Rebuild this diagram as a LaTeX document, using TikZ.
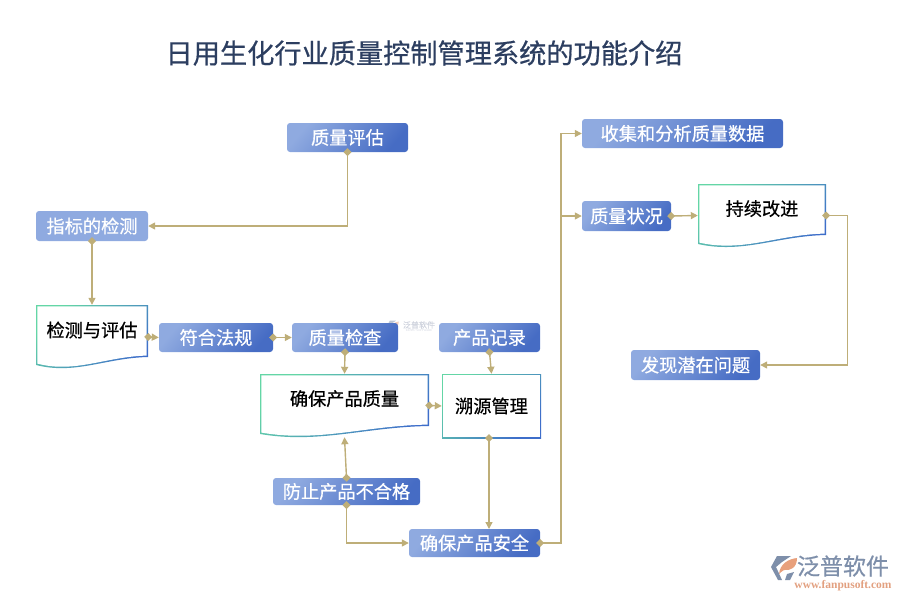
\documentclass[tikz,border=0pt]{standalone}
\usepackage{fontspec}
\setmainfont{Liberation Serif}
\newfontfamily\cjk[FakeBold=0.6]{Noto Sans CJK SC}
\usepackage{xcolor}
\usetikzlibrary{calc, arrows.meta, positioning}

% outline of a box, its gradient is a shaded shape under a white one
\newcommand{\docshape}[5]{% x1, y1, x2, left end y, right end y
    \shade[edgeshade] (#1,#2) -- (#3,#2) -- (#3,#5)
        .. controls ({#1+0.62*(#3-#1)},#5+1) and ({#1+0.35*(#3-#1)},#4+10) .. (#1,#4) -- cycle;
    \fill[white] (#1+1.4,#2+1.4) -- (#3-1.4,#2+1.4) -- (#3-1.4,#5-1.4)
        .. controls ({#1+0.62*(#3-#1)},#5-0.4) and ({#1+0.35*(#3-#1)},#4+8.6) .. (#1+1.4,#4-1.4) -- cycle;
}

\begin{document}
\begin{tikzpicture}[x=1pt, y=-1pt, >=latex,
    edgeshade/.style={top color=edgea, middle color=edgeb, bottom color=edgec, shading angle=45},
    bluebox/.style={rounded corners=3pt, inner sep=0pt, text=white, font=\cjk\fontsize{18.2}{18}\selectfont,
        top color=boxa, bottom color=boxb, shading angle=50},
    flatbox/.style={rounded corners=3pt, inner sep=0pt, text=white, font=\cjk\fontsize{18.2}{18}\selectfont, fill=boxa},
    docbox/.style={inner sep=0pt, text=black, font=\cjk\fontsize{18.2}{18}\selectfont, text height=0pt, text depth=0pt},
    conn/.style={draw=linecol, line width=1.4pt, shorten <=-4pt,
        {Diamond[length=8pt, width=8pt]}-{Triangle[length=7pt, width=7pt]}},
    branch/.style={draw=linecol, line width=1.4pt, -{Triangle[length=7pt, width=7pt]}},
    fanpuicon/.pic={
        \fill[iconcol] (-13,-1) -- (-7,-12) -- (7,-12) -- (-2,-6) -- (-8,-1) -- (-2,12) -- (-6,12) -- cycle;
        \fill[leafcol] (-5,6) .. controls (-4,-4) and (4,-9) .. (13,-10) .. controls (13,0) and (6,3) .. (0,2) .. controls (-2,3) and (-4,5) .. (-5,6) -- cycle;
        \fill[iconcol] (10,4) -- (6,12) -- (1,12) -- (3,6) -- cycle;
    }]
    % Colours
    \definecolor{boxa}{RGB}{143, 170, 224}
    \definecolor{boxb}{RGB}{70, 108, 196}
    \definecolor{edgea}{RGB}{100, 214, 166}
    \definecolor{edgeb}{RGB}{72, 184, 184}
    \definecolor{edgec}{RGB}{62, 110, 202}
    \definecolor{linecol}{RGB}{190, 174, 120}
    \definecolor{titlecol}{RGB}{44, 62, 96}
    \definecolor{iconcol}{RGB}{126, 143, 170}
    \definecolor{leafcol}{RGB}{232, 160, 124}
    \definecolor{urlcol}{RGB}{226, 160, 128}
    \definecolor{markcol}{RGB}{208, 212, 222}

    \useasboundingbox (0,0) rectangle (900,600);

    % 1. Title
    \node[text=titlecol, font=\cjk\fontsize{27.2}{27}\selectfont] (title) at (424,53) {日用生化行业质量控制管理系统的功能介绍};

    % 2. Faint mark in the middle
    \pic[scale=0.45, opacity=0.5] at (393,326) {fanpuicon};
    \node[text=markcol, font=\cjk\fontsize{8}{8}\selectfont] (marka) at (419,325) {泛普软件};
    \node[text=markcol, font=\fontsize{3}{3}\selectfont] (markb) at (419,331) {FANPU SOFTWARE};

    % 3. Outlined boxes
    \docshape{36}{305}{148}{365}{357}
    \docshape{260}{374}{429}{434}{426}
    \docshape{698}{184}{826}{244}{235}
    \shade[edgeshade] (442,374) rectangle (541,438);
    \fill[white] (443.4,375.4) rectangle (539.6,436.6);

    \node[docbox, minimum width=112, minimum height=64] (detect) at (92,337) {检测与评估};
    \node[docbox, minimum width=169, minimum height=63] (ensure) at (344.5,405.5) {确保产品质量};
    \node[docbox, minimum width=128, minimum height=63] (improve) at (762,215.5) {持续改进};
    \node[inner sep=0pt, text=black, font=\cjk\fontsize{18.2}{18}\selectfont, minimum width=99, minimum height=64] (trace) at (491.5,406) {溯源管理};

    % 4. Blue boxes
    \node[bluebox, minimum width=121, minimum height=29] (assess) at (347.5,137.5) {质量评估};
    \node[flatbox, minimum width=112, minimum height=30] (index) at (92,226) {指标的检测};
    \node[bluebox, minimum width=114, minimum height=29] (comply) at (216,337.5) {符合法规};
    \node[bluebox, minimum width=106, minimum height=29] (inspect) at (345,337.5) {质量检查};
    \node[bluebox, minimum width=101, minimum height=29] (record) at (489.5,337.5) {产品记录};
    \node[bluebox, minimum width=147, minimum height=27] (prevent) at (346.5,491.5) {防止产品不合格};
    \node[bluebox, minimum width=131, minimum height=28] (safety) at (474.5,543) {确保产品安全};
    \node[bluebox, minimum width=201, minimum height=29] (collect) at (682.5,133.5) {收集和分析质量数据};
    \node[bluebox, minimum width=89, minimum height=30] (status) at (626.5,216) {质量状况};
    \node[bluebox, minimum width=129, minimum height=30] (issue) at (695.5,365) {发现潜在问题};

    % 5. Connectors
    \coordinate (bus) at (561,216);
    \coordinate (tracefoot) at (489,529);
    \draw[conn] (assess.south) |- (index.east);
    \draw[conn] (index.south) -- (detect.north);
    \draw[conn] (detect.east) -- (comply.west);
    \draw[conn] (comply.east) -- (inspect.west);
    \draw[conn] (inspect.south) -- (ensure.north);
    \draw[conn] (record.south) -- (trace.north);
    \draw[conn] (ensure.east) -- (trace.west);
    \draw[conn] (trace.south -| tracefoot) -- (tracefoot);
    \draw[conn] (prevent.north) -- (ensure.south);
    \draw[conn] (prevent.south) |- (safety.west);
    \draw[conn] (safety.east) -| (bus) |- (collect.west);
    \draw[branch] (bus) -- (status.west);
    \draw[conn] (status.east) -- (improve.west);
    \draw[conn] (improve.east) -- ++(21,0) |- (issue.east);

    % 6. Logo
    \pic at (784,568) {fanpuicon};
    \node[text=iconcol, font=\cjk\fontsize{23}{23}\selectfont] (logoname) at (843,566) {泛普软件};
    \node[text=urlcol, font=\bfseries\fontsize{11.5}{12}\selectfont] (logourl) at (843,586) {www.fanpusoft.com};
\end{tikzpicture}
\end{document}
